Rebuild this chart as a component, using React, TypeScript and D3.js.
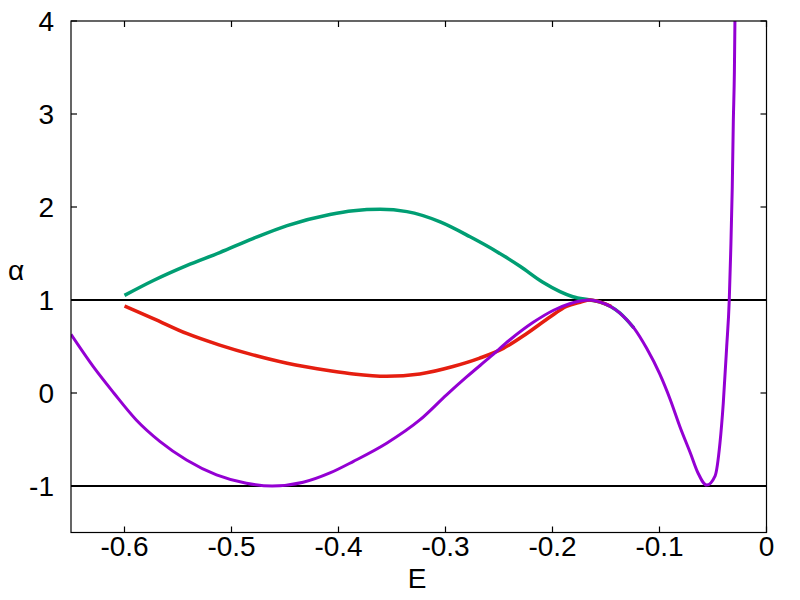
import React from 'react'
import * as d3 from 'd3'

// purple curve (E, alpha)
const purpleE = [-0.65, -0.629, -0.61, -0.589, -0.567, -0.542, -0.514, -0.486, -0.462, -0.433, -0.408, -0.386, -0.355, -0.324, -0.299, -0.28, -0.258, -0.24, -0.218, -0.199, -0.184, -0.174, -0.165, -0.156, -0.137, -0.124, -0.112, -0.1, -0.09, -0.081, -0.071, -0.064, -0.056, -0.048, -0.0435, -0.0404, -0.0372, -0.0348, -0.0335, -0.032, -0.031, -0.030, -0.0295]
const purpleA = [0.63, 0.28, 0.0, -0.29, -0.52, -0.72, -0.88, -0.97, -1.0, -0.96, -0.86, -0.735, -0.54, -0.29, -0.02, 0.175, 0.39, 0.57, 0.76, 0.89, 0.96, 0.99, 1.0, 0.98, 0.86, 0.7, 0.48, 0.21, -0.07, -0.36, -0.65, -0.86, -0.99, -0.89, -0.54, -0.11, 0.5, 1.0, 1.5, 2.21, 2.93, 3.46, 4.0]

// green curve
const greenE = [-0.6, -0.573, -0.542, -0.511, -0.48, -0.448, -0.408, -0.386, -0.361, -0.336, -0.305, -0.277, -0.252, -0.23, -0.209, -0.193, -0.181, -0.165, -0.156, -0.137, -0.124]
const greenA = [1.05, 1.21, 1.37, 1.51, 1.66, 1.8, 1.92, 1.96, 1.975, 1.95, 1.84, 1.68, 1.52, 1.36, 1.19, 1.09, 1.035, 1.0, 0.98, 0.86, 0.7]

// red curve
const redE = [-0.6, -0.573, -0.542, -0.511, -0.48, -0.448, -0.408, -0.386, -0.355, -0.324, -0.293, -0.268, -0.246, -0.224, -0.202, -0.187, -0.174, -0.165, -0.156, -0.145]
const redA = [0.935, 0.8, 0.64, 0.515, 0.41, 0.32, 0.24, 0.205, 0.18, 0.205, 0.285, 0.375, 0.48, 0.64, 0.82, 0.93, 0.975, 1.0, 0.98, 0.93]

const xTicks = [-0.6, -0.5, -0.4, -0.3, -0.2, -0.1, 0]
const yTicks = [-1, 0, 1, 2, 3, 4]
const refLines = [1, -1]

const W = 800, H = 600
const left = 71, right = 766.5, top = 21, bottom = 532.5
const font = '"Liberation Sans", Arial, sans-serif'

function App() {
  const x = d3.scaleLinear().domain([-0.65, 0]).range([left, right])
  const y = d3.scaleLinear().domain([-1.5, 4]).range([bottom, top])

  const toPts = (es: number[], as: number[]) => es.map((e, i) => [e, as[i]] as [number, number])
  const line = d3.line<[number, number]>()
    .x(d => x(d[0]))
    .y(d => y(d[1]))
    .curve(d3.curveMonotoneX)

  const series = [
    { pts: toPts(greenE, greenA), color: '#009e73', w: 3.5 },
    { pts: toPts(redE, redA), color: '#e51e10', w: 3.5 },
    { pts: toPts(purpleE, purpleA), color: '#9400d3', w: 3 },
  ]

  return (
    <svg width={W} height={H} style={{ position: 'absolute', left: 0, top: 0, background: '#fff' }}>
      <defs>
        <clipPath id="plot">
          <rect x={left} y={top} width={right - left} height={bottom - top} />
        </clipPath>
      </defs>
      {refLines.map(v => (
        <line key={v} x1={left} x2={right} y1={y(v)} y2={y(v)} stroke="#000" strokeWidth={2} />
      ))}
      <g clipPath="url(#plot)">
        {series.map((s, i) => (
          <path key={i} d={line(s.pts) || ''} fill="none" stroke={s.color} strokeWidth={s.w} strokeLinejoin="round" />
        ))}
      </g>
      <rect x={left} y={top} width={right - left} height={bottom - top} fill="none" stroke="#000" strokeWidth={1.2} />
      {xTicks.map(t => (
        <g key={t}>
          <line x1={x(t)} x2={x(t)} y1={bottom} y2={bottom - 6} stroke="#000" strokeWidth={1.2} />
          <line x1={x(t)} x2={x(t)} y1={top} y2={top + 6} stroke="#000" strokeWidth={1.2} />
          <text x={x(t)} y={556} textAnchor="middle" fontFamily={font} fontSize={28}>{t === 0 ? '0' : String(t)}</text>
        </g>
      ))}
      {yTicks.map(t => (
        <g key={t}>
          <line x1={left} x2={left + 6} y1={y(t)} y2={y(t)} stroke="#000" strokeWidth={1.2} />
          <line x1={right} x2={right - 6} y1={y(t)} y2={y(t)} stroke="#000" strokeWidth={1.2} />
          <text x={54} y={y(t) + 10} textAnchor="end" fontFamily={font} fontSize={28}>{String(t)}</text>
        </g>
      ))}
      <text x={417} y={588} textAnchor="middle" fontFamily={font} fontSize={28}>E</text>
      <text x={16} y={280} textAnchor="middle" fontFamily={font} fontSize={28}>α</text>
    </svg>
  )
}

export default App
